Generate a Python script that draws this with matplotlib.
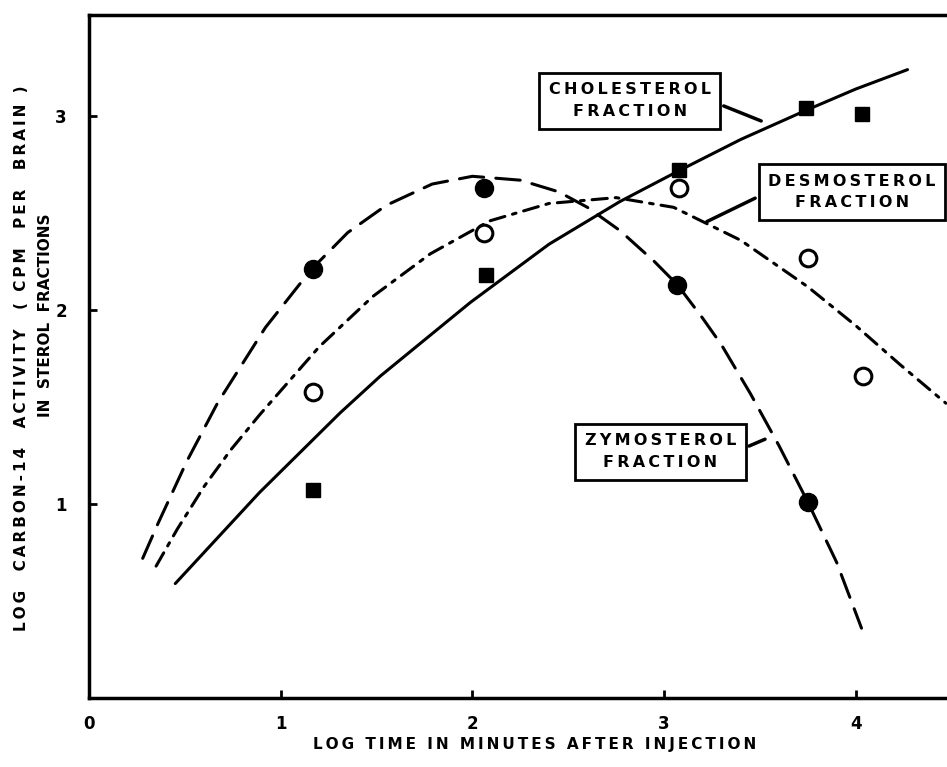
import matplotlib
matplotlib.use('Agg')
import matplotlib.pyplot as plt

# measured data points (log minutes, log cpm)
CHOL_X = [1.17, 2.07, 3.08, 3.74, 4.03]
CHOL_Y = [1.07, 2.18, 2.72, 3.04, 3.01]
DESMO_X = [1.17, 2.06, 3.08, 3.75, 4.04]
DESMO_Y = [1.58, 2.40, 2.63, 2.27, 1.66]
ZYMO_X = [1.17, 2.06, 3.07, 3.75]
ZYMO_Y = [2.21, 2.63, 2.13, 1.01]

# hand drawn curves
CHOL_CURVE_X = [0.45, 0.89, 1.31, 1.52, 1.99, 2.40, 2.77, 3.08, 3.40, 3.74, 4.00, 4.27]
CHOL_CURVE_Y = [0.59, 1.06, 1.47, 1.66, 2.04, 2.34, 2.56, 2.72, 2.88, 3.03, 3.14, 3.24]
DESMO_CURVE_X = [0.35, 0.46, 0.60, 0.74, 0.89, 1.20, 1.48, 1.78, 2.09, 2.40, 2.75, 3.05, 3.40, 3.75, 4.00, 4.23, 4.47]
DESMO_CURVE_Y = [0.68, 0.87, 1.09, 1.28, 1.46, 1.81, 2.07, 2.29, 2.46, 2.55, 2.58, 2.53, 2.36, 2.12, 1.92, 1.72, 1.52]
ZYMO_CURVE_X = [0.28, 0.36, 0.51, 0.67, 0.92, 1.16, 1.35, 1.55, 1.79, 2.00, 2.25, 2.45, 2.60, 2.77, 2.95, 3.07,
                3.20, 3.30, 3.45, 3.60, 3.75, 3.90, 4.03]
ZYMO_CURVE_Y = [0.72, 0.90, 1.22, 1.52, 1.91, 2.21, 2.40, 2.54, 2.65, 2.69, 2.67, 2.61, 2.53, 2.41, 2.25, 2.13,
                1.96, 1.82, 1.57, 1.30, 1.01, 0.70, 0.36]

X_TICKS = [0, 1, 2, 3, 4]
Y_TICKS = [1, 2, 3]

LW = 2.2


def track(s):
    # wide letter spacing like the stencil lettering
    return '\u2009'.join(s)


def main():
    fig = plt.figure(figsize=(9.47, 7.67), dpi=100)
    ax = fig.add_axes([0.094, 0.09, 0.906, 0.89])

    ax.plot(CHOL_CURVE_X, CHOL_CURVE_Y, color='black', lw=LW, solid_capstyle='round')
    ax.plot(DESMO_CURVE_X, DESMO_CURVE_Y, color='black', lw=LW,
            dashes=(5, 2.6, 1.2, 2.6), dash_capstyle='round')
    ax.plot(ZYMO_CURVE_X, ZYMO_CURVE_Y, color='black', lw=LW,
            dashes=(8, 4), dash_capstyle='round')

    ax.plot(CHOL_X, CHOL_Y, 's', color='black', ms=10, ls='none')
    ax.plot(DESMO_X, DESMO_Y, 'o', mfc='white', mec='black', mew=2.2, ms=12, ls='none')
    ax.plot(ZYMO_X, ZYMO_Y, 'o', color='black', ms=13, ls='none')

    box = dict(boxstyle='square,pad=0.6', fc='white', ec='black', lw=2)
    label_kw = dict(ha='center', va='center', fontsize=11.5, fontweight='bold',
                    linespacing=1.55, bbox=box)
    ax.annotate(track('CHOLESTEROL') + '\n' + track('FRACTION'), xy=(3.52, 2.97),
                xytext=(2.82, 3.08),
                arrowprops=dict(arrowstyle='-', lw=2.5, color='black', relpos=(1, 0.5)),
                **label_kw)
    ax.annotate(track('DESMOSTEROL') + '\n' + track('FRACTION'), xy=(3.21, 2.45),
                xytext=(3.98, 2.61),
                arrowprops=dict(arrowstyle='-', lw=2.5, color='black', relpos=(0, 0.5)),
                **label_kw)
    ax.annotate(track('ZYMOSTEROL') + '\n' + track('FRACTION'), xy=(3.54, 1.34),
                xytext=(2.98, 1.27),
                arrowprops=dict(arrowstyle='-', lw=2.5, color='black', relpos=(1, 0.5)),
                **label_kw)

    ax.set_xlim(0, 4.476)
    ax.set_ylim(0, 3.52)
    ax.set_xticks(X_TICKS)
    ax.set_yticks(Y_TICKS)
    ax.tick_params(direction='in', length=6, width=2, labelsize=12)
    ax.tick_params(axis='x', pad=12)
    ax.tick_params(axis='y', pad=16)
    for lab in ax.get_xticklabels() + ax.get_yticklabels():
        lab.set_fontweight('bold')

    for side in ['left', 'bottom', 'top']:
        ax.spines[side].set_linewidth(2.5)
    ax.spines['right'].set_visible(False)

    fig.text(0.565, 0.029, track('LOG TIME IN MINUTES AFTER INJECTION'),
             ha='center', va='center', fontsize=11, fontweight='bold')
    fig.text(0.023, 0.533, track('LOG  CARBON-14  ACTIVITY  ( CPM  PER  BRAIN )'),
             rotation=90, ha='center', va='center', fontsize=11, fontweight='bold')
    fig.text(0.048, 0.589, 'IN  STEROL  FRACTIONS',
             rotation=90, ha='center', va='center', fontsize=11, fontweight='bold')

    fig.savefig('out.png', dpi=100)
    plt.close('all')


if __name__ == '__main__':
    main()
